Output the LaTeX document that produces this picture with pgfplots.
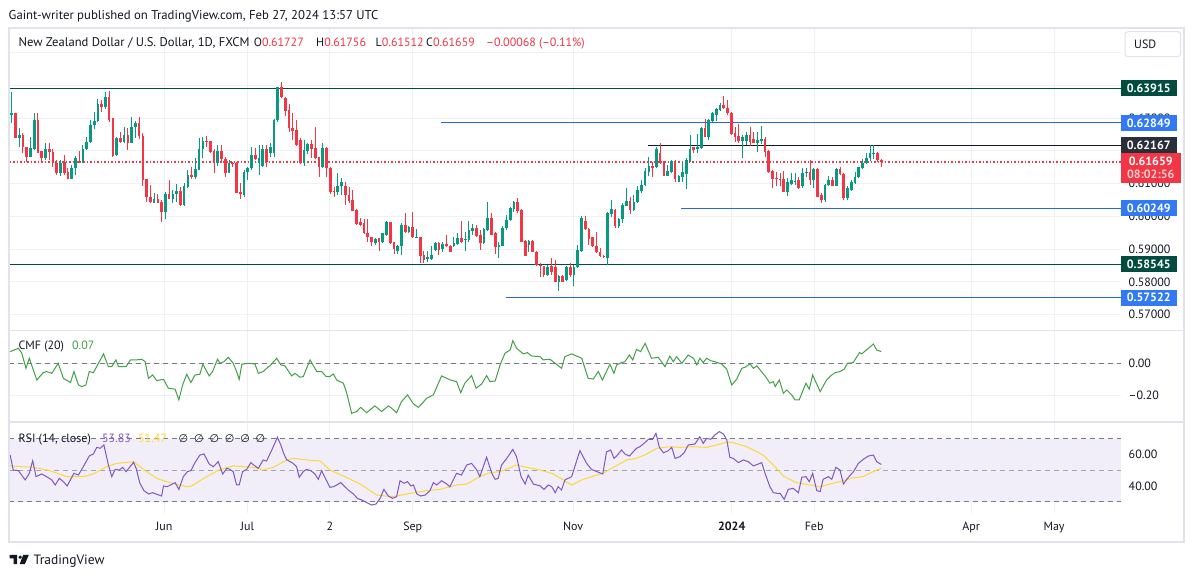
\documentclass[border=0pt]{standalone}
\usepackage{fontspec}
\setmainfont{PT Sans}
\newfontfamily\dejavu{DejaVu Sans}
\usepackage{pgfplots}
\pgfplotsset{compat=1.18}
\usepackage{pgfplotstable}
\definecolor{up}{HTML}{089981}
\definecolor{dn}{HTML}{F23645}
\definecolor{txt}{HTML}{131722}
\definecolor{gridc}{HTML}{EEF0F5}
\definecolor{framec}{HTML}{E0E3EB}
\definecolor{dgreen}{HTML}{004D40}
\definecolor{bline}{HTML}{2962FF}
\definecolor{bbox}{HTML}{3179F5}
\definecolor{kbox}{HTML}{2A2E39}
\definecolor{cmfc}{HTML}{43A047}
\definecolor{rsic}{HTML}{7E57C2}
\definecolor{mac}{HTML}{FDD835}
\definecolor{bandc}{HTML}{F2EEF9}
\definecolor{dashc}{HTML}{787B86}
\definecolor{dashl}{HTML}{A3A6AF}
\definecolor{pinkc}{HTML}{FBCBD0}

\pgfplotstableread{
i O H L C
0 0.6308 0.6380 0.6286 0.6316
1 0.6316 0.6316 0.6238 0.6240
2 0.6240 0.6271 0.6210 0.6248
3 0.6248 0.6253 0.6194 0.6210
4 0.6213 0.6213 0.6167 0.6182
5 0.6182 0.6241 0.6182 0.6208
6 0.6204 0.6314 0.6202 0.6294
7 0.6294 0.6314 0.6194 0.6194
8 0.6200 0.6200 0.6162 0.6179
9 0.6177 0.6223 0.6172 0.6205
10 0.6205 0.6225 0.6172 0.6197
11 0.6197 0.6205 0.6150 0.6164
12 0.6164 0.6172 0.6126 0.6133
13 0.6133 0.6172 0.6124 0.6164
14 0.6167 0.6187 0.6126 0.6133
15 0.6136 0.6146 0.6113 0.6113
16 0.6113 0.6157 0.6113 0.6146
17 0.6146 0.6185 0.6126 0.6177
18 0.6169 0.6200 0.6162 0.6164
19 0.6167 0.6218 0.6164 0.6205
20 0.6204 0.6243 0.6202 0.6226
21 0.6226 0.6294 0.6223 0.6279
22 0.6279 0.6317 0.6265 0.6292
23 0.6292 0.6357 0.6289 0.6343
24 0.6343 0.6355 0.6319 0.6333
25 0.6333 0.6378 0.6327 0.6365
26 0.6365 0.6382 0.6289 0.6294
27 0.6299 0.6299 0.6182 0.6184
28 0.6187 0.6243 0.6184 0.6238
29 0.6238 0.6258 0.6223 0.6228
30 0.6228 0.6274 0.6223 0.6248
31 0.6248 0.6271 0.6202 0.6223
32 0.6223 0.6304 0.6223 0.6274
33 0.6272 0.6292 0.6238 0.6286
34 0.6286 0.6302 0.6235 0.6245
35 0.6245 0.6253 0.6092 0.6111
36 0.6113 0.6113 0.6045 0.6060
37 0.6060 0.6096 0.6040 0.6045
38 0.6042 0.6070 0.6042 0.6053
39 0.6053 0.6067 0.6042 0.6042
40 0.6043 0.6050 0.5984 0.6014
41 0.6014 0.6075 0.5991 0.6068
42 0.6068 0.6111 0.6053 0.6053
43 0.6053 0.6080 0.6042 0.6068
44 0.6067 0.6099 0.6045 0.6077
45 0.6077 0.6090 0.6032 0.6035
46 0.6035 0.6101 0.6032 0.6092
47 0.6090 0.6141 0.6085 0.6126
48 0.6126 0.6150 0.6115 0.6119
49 0.6119 0.6177 0.6113 0.6144
50 0.6141 0.6238 0.6141 0.6205
51 0.6204 0.6241 0.6177 0.6230
52 0.6231 0.6245 0.6213 0.6228
53 0.6230 0.6231 0.6194 0.6197
54 0.6199 0.6204 0.6133 0.6164
55 0.6164 0.6218 0.6154 0.6199
56 0.6199 0.6218 0.6164 0.6174
57 0.6174 0.6182 0.6119 0.6133
58 0.6133 0.6172 0.6133 0.6164
59 0.6164 0.6167 0.6152 0.6162
60 0.6164 0.6167 0.6070 0.6072
61 0.6075 0.6101 0.6053 0.6067
62 0.6065 0.6141 0.6060 0.6136
63 0.6136 0.6152 0.6111 0.6146
64 0.6146 0.6213 0.6141 0.6187
65 0.6187 0.6208 0.6172 0.6175
66 0.6164 0.6218 0.6126 0.6177
67 0.6154 0.6218 0.6150 0.6205
68 0.6205 0.6218 0.6150 0.6167
69 0.6194 0.6223 0.6180 0.6211
70 0.6194 0.6296 0.6182 0.6294
71 0.6294 0.6396 0.6289 0.6394
72 0.6394 0.6411 0.6360 0.6365
73 0.6360 0.6365 0.6306 0.6322
74 0.6324 0.6343 0.6258 0.6269
75 0.6271 0.6314 0.6233 0.6261
76 0.6263 0.6294 0.6215 0.6218
77 0.6233 0.6238 0.6160 0.6162
78 0.6162 0.6233 0.6155 0.6202
79 0.6200 0.6225 0.6190 0.6221
80 0.6221 0.6233 0.6177 0.6205
81 0.6208 0.6274 0.6175 0.6179
82 0.6182 0.6182 0.6121 0.6152
83 0.6152 0.6225 0.6146 0.6208
84 0.6208 0.6213 0.6121 0.6146
85 0.6146 0.6152 0.6067 0.6075
86 0.6078 0.6088 0.6060 0.6075
87 0.6075 0.6131 0.6065 0.6092
88 0.6092 0.6116 0.6065 0.6106
89 0.6092 0.6106 0.6035 0.6065
90 0.6065 0.6090 0.6040 0.6048
91 0.6050 0.6080 0.6017 0.6017
92 0.6019 0.6022 0.5974 0.5977
93 0.5984 0.5994 0.5969 0.5972
94 0.5981 0.5991 0.5946 0.5948
95 0.5948 0.5991 0.5923 0.5936
96 0.5938 0.5938 0.5908 0.5921
97 0.5918 0.5933 0.5913 0.5930
98 0.5933 0.5935 0.5895 0.5921
99 0.5921 0.5950 0.5919 0.5948
100 0.5943 0.5986 0.5941 0.5982
101 0.5982 0.5984 0.5916 0.5918
102 0.5923 0.5923 0.5884 0.5900
103 0.5895 0.5913 0.5884 0.5910
104 0.5908 0.5979 0.5882 0.5972
105 0.5972 0.6009 0.5948 0.5951
106 0.5951 0.5969 0.5948 0.5966
107 0.5966 0.6014 0.5933 0.5936
108 0.5935 0.5962 0.5933 0.5937
109 0.5938 0.5938 0.5859 0.5879
110 0.5882 0.5895 0.5859 0.5867
111 0.5871 0.5895 0.5862 0.5875
112 0.5869 0.5908 0.5867 0.5882
113 0.5897 0.5923 0.5895 0.5918
114 0.5918 0.5923 0.5882 0.5897
115 0.5900 0.5923 0.5892 0.5915
116 0.5915 0.5943 0.5906 0.5908
117 0.5910 0.5913 0.5890 0.5892
118 0.5908 0.5938 0.5906 0.5918
119 0.5916 0.5948 0.5913 0.5933
120 0.5933 0.5987 0.5918 0.5923
121 0.5928 0.5953 0.5895 0.5930
122 0.5928 0.5987 0.5923 0.5958
123 0.5956 0.5977 0.5943 0.5963
124 0.5963 0.5974 0.5938 0.5941
125 0.5943 0.5958 0.5897 0.5918
126 0.5918 0.5964 0.5916 0.5960
127 0.5958 0.6045 0.5956 0.5994
128 0.5994 0.6009 0.5943 0.5943
129 0.5950 0.5953 0.5884 0.5905
130 0.5905 0.5923 0.5872 0.5913
131 0.5910 0.5969 0.5908 0.5964
132 0.5964 0.6004 0.5958 0.5989
133 0.5989 0.6028 0.5985 0.6024
134 0.6022 0.6048 0.6014 0.6045
135 0.6045 0.6055 0.6009 0.6017
136 0.6019 0.6022 0.5921 0.5923
137 0.5926 0.5928 0.5879 0.5879
138 0.5913 0.5928 0.5892 0.5926
139 0.5926 0.5928 0.5890 0.5892
140 0.5892 0.5895 0.5849 0.5852
141 0.5852 0.5857 0.5816 0.5847
142 0.5847 0.5847 0.5816 0.5821
143 0.5821 0.5852 0.5819 0.5845
144 0.5849 0.5872 0.5821 0.5831
145 0.5845 0.5867 0.5799 0.5801
146 0.5801 0.5821 0.5772 0.5818
147 0.5818 0.5821 0.5799 0.5801
148 0.5805 0.5847 0.5803 0.5845
149 0.5845 0.5857 0.5816 0.5821
150 0.5821 0.5852 0.5787 0.5845
151 0.5845 0.5913 0.5842 0.5897
152 0.5894 0.6001 0.5892 0.5996
153 0.5987 0.6001 0.5958 0.5960
154 0.5960 0.5964 0.5913 0.5930
155 0.5936 0.5938 0.5906 0.5908
156 0.5910 0.5953 0.5887 0.5890
157 0.5890 0.5903 0.5877 0.5879
158 0.5879 0.5882 0.5872 0.5875
159 0.5872 0.6012 0.5852 0.6009
160 0.6006 0.6050 0.5999 0.6021
161 0.6018 0.6021 0.5964 0.5969
162 0.5969 0.5994 0.5964 0.5991
163 0.5991 0.6040 0.5979 0.6035
164 0.6032 0.6086 0.6030 0.6047
165 0.6047 0.6060 0.6008 0.6018
166 0.6018 0.6066 0.6015 0.6045
167 0.6045 0.6091 0.6042 0.6079
168 0.6076 0.6111 0.6071 0.6096
169 0.6096 0.6147 0.6093 0.6137
170 0.6134 0.6182 0.6123 0.6154
171 0.6154 0.6167 0.6119 0.6147
172 0.6149 0.6210 0.6147 0.6205
173 0.6193 0.6223 0.6160 0.6162
174 0.6164 0.6169 0.6122 0.6123
175 0.6123 0.6157 0.6122 0.6137
176 0.6134 0.6172 0.6132 0.6169
177 0.6169 0.6172 0.6106 0.6113
178 0.6106 0.6125 0.6105 0.6123
179 0.6121 0.6167 0.6106 0.6134
180 0.6129 0.6177 0.6084 0.6172
181 0.6170 0.6248 0.6167 0.6206
182 0.6211 0.6213 0.6193 0.6203
183 0.6205 0.6251 0.6193 0.6211
184 0.6208 0.6274 0.6205 0.6271
185 0.6271 0.6296 0.6241 0.6243
186 0.6243 0.6296 0.6233 0.6294
187 0.6292 0.6319 0.6289 0.6314
188 0.6310 0.6330 0.6292 0.6327
189 0.6325 0.6347 0.6320 0.6340
190 0.6340 0.6367 0.6327 0.6330
191 0.6330 0.6355 0.6309 0.6314
192 0.6316 0.6317 0.6248 0.6250
193 0.6253 0.6274 0.6228 0.6243
194 0.6245 0.6282 0.6223 0.6231
195 0.6231 0.6248 0.6177 0.6243
196 0.6231 0.6258 0.6218 0.6248
197 0.6248 0.6274 0.6215 0.6228
198 0.6235 0.6258 0.6223 0.6225
199 0.6225 0.6256 0.6196 0.6233
200 0.6231 0.6276 0.6221 0.6236
201 0.6236 0.6243 0.6182 0.6197
202 0.6200 0.6202 0.6133 0.6134
203 0.6139 0.6141 0.6086 0.6114
204 0.6116 0.6136 0.6091 0.6114
205 0.6114 0.6131 0.6091 0.6113
206 0.6114 0.6139 0.6073 0.6075
207 0.6075 0.6116 0.6062 0.6106
208 0.6099 0.6131 0.6096 0.6111
209 0.6108 0.6133 0.6096 0.6109
210 0.6111 0.6121 0.6084 0.6086
211 0.6091 0.6147 0.6086 0.6133
212 0.6131 0.6147 0.6121 0.6136
213 0.6136 0.6172 0.6096 0.6111
214 0.6111 0.6146 0.6086 0.6145
215 0.6145 0.6146 0.6058 0.6060
216 0.6065 0.6072 0.6040 0.6050
217 0.6050 0.6098 0.6045 0.6096
218 0.6096 0.6123 0.6091 0.6111
219 0.6111 0.6119 0.6091 0.6094
220 0.6094 0.6147 0.6093 0.6144
221 0.6144 0.6150 0.6125 0.6128
222 0.6128 0.6133 0.6050 0.6057
223 0.6057 0.6091 0.6050 0.6086
224 0.6081 0.6111 0.6078 0.6104
225 0.6101 0.6136 0.6099 0.6121
226 0.6119 0.6152 0.6116 0.6149
227 0.6147 0.6174 0.6144 0.6164
228 0.6162 0.6194 0.6160 0.6179
229 0.6177 0.6218 0.6170 0.6194
230 0.6192 0.6218 0.6174 0.6194
231 0.6192 0.6197 0.6167 0.6172
232 0.6173 0.6176 0.6151 0.6166
}\candles

\pgfplotstableread{
x y
-0.4 0.072
1.8 0.093
2.7 0.062
3.8 -0.031
4.7 0.031
6.7 -0.103
8.4 -0.058
9.3 -0.051
10.7 -0.062
12.4 0.0
13.8 -0.093
15.7 -0.119
16.6 -0.051
17.8 -0.134
18.7 -0.144
19.8 -0.134
20.7 -0.051
21.8 -0.058
24.5 0.058
25.8 -0.021
26.7 -0.021
27.8 0.021
28.5 -0.021
30.5 -0.021
31.7 0.021
33.3 0.021
34.7 0.025
35.6 0.010
36.5 -0.093
37.6 -0.072
38.7 -0.107
40.5 -0.099
41.8 -0.154
43.6 -0.160
44.6 -0.226
45.6 -0.134
46.7 -0.068
47.8 -0.119
48.9 -0.072
50.2 -0.068
51.0 -0.006
52.7 -0.078
53.6 -0.051
54.9 0.025
55.6 0.0
56.6 0.010
57.8 0.037
59.1 0.0
60.0 -0.051
60.7 -0.099
61.4 -0.006
63.1 0.0
64.9 -0.004
65.8 -0.062
67.1 -0.051
68.5 -0.021
68.9 -0.016
70.7 0.031
71.8 -0.010
72.9 -0.016
74.7 -0.078
75.6 -0.062
76.9 -0.086
77.8 -0.082
79.6 0.021
81.4 -0.051
82.7 -0.051
83.9 -0.082
84.9 -0.082
85.8 -0.066
86.7 -0.103
88.5 -0.123
89.4 -0.185
90.7 -0.309
92.0 -0.298
93.1 -0.272
94.7 -0.305
96.9 -0.263
98.7 -0.298
100.5 -0.263
101.4 -0.278
102.7 -0.305
104.0 -0.237
105.6 -0.195
107.2 -0.251
108.5 -0.272
109.4 -0.251
110.7 -0.216
112.5 -0.195
114.7 -0.078
117.0 -0.103
118.7 -0.113
119.8 -0.181
120.9 -0.123
122.7 -0.076
123.9 -0.154
125.4 -0.128
126.7 -0.076
127.6 -0.113
129.0 -0.109
130.3 -0.010
131.6 0.062
133.0 0.082
133.7 0.140
134.7 0.093
136.5 0.058
137.6 0.066
138.7 0.045
141.0 0.041
141.8 0.021
143.6 0.025
145.0 0.0
146.7 -0.031
147.6 0.041
149.4 0.058
150.7 0.045
152.1 0.031
153.8 -0.093
155.2 -0.097
156.5 -0.051
157.6 -0.103
159.6 -0.006
160.7 -0.062
161.4 -0.010
162.7 0.004
163.6 0.010
164.8 0.051
165.7 0.021
166.7 0.086
167.8 0.072
169.0 0.123
170.7 0.031
172.5 0.037
174.3 -0.021
175.6 0.045
176.5 0.010
177.4 0.041
178.8 0.0
180.5 0.051
181.9 0.031
182.8 -0.010
183.6 0.031
184.5 0.004
185.4 0.031
186.5 0.016
187.6 0.010
189.4 -0.004
190.8 -0.037
192.1 -0.134
193.4 -0.099
194.8 -0.031
195.6 -0.025
197.0 -0.004
197.9 -0.031
198.8 -0.016
201.0 -0.078
202.3 -0.123
203.2 -0.113
203.7 -0.144
204.8 -0.103
205.9 -0.185
206.8 -0.165
208.1 -0.195
209.0 -0.226
210.1 -0.226
211.9 -0.123
212.8 -0.160
213.7 -0.072
215.7 -0.175
217.4 -0.103
218.8 -0.072
219.7 -0.058
221.0 -0.051
222.1 -0.037
223.0 0.0
224.5 0.004
226.2 0.066
226.8 0.058
229.9 0.119
230.8 0.082
232.0 0.072
}\cmf

\pgfplotstableread{
x y
-0.4 59.8
0.4 50.3
1.8 49.9
3.6 44.0
4.7 48.2
5.6 56.2
6.5 46.1
8.0 47.8
9.3 46.1
10.7 44.0
11.6 40.8
12.7 45.0
13.8 42.9
14.8 40.2
16.6 48.2
17.8 47.1
19.1 52.4
20.7 59.2
21.8 60.5
22.7 64.7
23.6 64.1
24.6 66.2
25.8 53.5
26.7 46.1
27.6 50.7
28.7 50.3
29.6 52.0
30.5 49.3
31.6 52.4
32.5 55.2
33.2 51.4
34.2 41.9
35.3 37.2
36.5 35.1
37.6 35.9
38.5 35.1
40.0 33.8
40.5 40.2
41.4 39.7
42.4 40.8
43.6 42.3
44.6 38.0
45.8 46.1
46.9 49.3
47.8 49.9
48.9 55.0
50.2 59.8
51.3 60.5
52.7 54.1
53.8 52.4
55.1 55.6
56.3 47.8
57.4 51.4
58.2 50.7
59.1 49.3
60.0 40.8
60.7 40.8
61.6 49.3
62.7 50.7
63.8 55.0
64.9 52.9
65.8 51.4
67.1 56.7
68.0 56.0
69.4 63.0
70.9 71.1
71.8 66.2
72.5 61.2
73.4 56.7
74.3 55.6
75.1 54.5
76.0 52.4
76.7 45.7
77.8 49.3
78.7 50.7
79.8 49.9
80.9 47.8
81.8 44.4
82.7 49.9
83.9 44.0
84.9 39.3
85.8 39.7
86.7 40.8
87.8 42.3
88.9 39.7
89.8 37.6
91.2 35.1
92.2 32.3
93.4 31.3
94.7 29.6
96.0 28.1
97.2 28.7
98.3 32.3
99.3 38.0
100.5 33.8
101.6 32.3
102.7 33.4
103.6 43.5
104.7 41.9
105.6 42.9
106.5 40.2
107.2 40.8
108.1 35.1
109.1 33.8
110.3 34.4
111.6 37.2
112.5 42.3
113.4 40.8
114.7 43.5
116.1 41.4
116.9 39.7
118.7 48.2
120.0 47.1
121.4 53.5
122.7 54.5
124.1 50.3
124.9 46.1
126.7 58.4
128.1 48.2
129.0 44.4
129.8 45.0
130.7 53.5
132.1 57.7
133.7 63.4
134.7 58.8
135.9 46.1
137.0 41.4
137.8 47.1
139.2 41.4
141.0 40.2
142.0 38.0
143.2 40.8
144.1 39.7
145.0 35.9
145.8 39.7
146.7 37.6
147.6 44.0
149.4 46.1
151.6 62.6
153.4 54.5
154.7 50.7
156.1 49.3
157.7 47.8
158.7 61.8
159.8 63.0
160.7 57.7
161.4 59.2
162.7 63.0
163.6 60.5
164.8 59.2
166.7 64.1
167.6 65.1
168.7 67.2
169.9 69.8
171.0 69.8
171.9 73.6
172.8 64.7
173.9 61.2
175.2 62.6
176.1 64.7
177.0 57.7
178.3 58.8
179.4 61.2
180.5 66.2
182.3 66.8
183.6 71.5
184.5 67.2
185.4 70.4
186.5 69.8
187.6 72.5
188.8 74.7
189.9 73.2
190.8 69.4
191.6 58.4
192.5 57.7
193.9 55.0
195.2 56.7
196.5 55.6
197.9 52.9
199.2 54.1
200.1 55.0
201.0 48.2
202.3 39.7
203.2 35.9
204.3 35.5
205.0 35.5
206.1 31.7
207.2 38.0
208.5 38.7
209.9 35.9
210.8 45.7
211.9 46.1
212.8 42.9
213.7 48.2
214.8 37.2
215.7 36.6
216.5 44.4
217.9 46.1
218.8 44.4
219.9 52.0
221.0 50.3
221.9 41.4
223.0 45.0
224.6 49.3
225.9 54.5
227.2 57.1
228.6 59.2
229.9 59.8
230.8 55.6
232.0 53.83
}\rsi

\pgfplotstableread{
x y
-0.4 52.9
5.8 52.0
10.2 49.9
14.7 46.1
19.1 46.1
21.8 47.8
25.3 52.4
28.0 54.5
32.5 55.6
35.1 50.7
38.7 45.0
42.2 42.3
46.7 39.7
48.0 40.2
52.0 46.1
55.6 50.7
59.1 52.9
64.5 52.0
67.1 50.3
69.8 52.0
73.4 56.7
75.1 57.7
78.7 56.7
82.3 56.0
84.9 50.3
88.5 46.5
93.0 41.4
97.4 34.4
101.8 33.4
106.3 35.5
110.7 37.2
114.3 38.0
118.7 40.8
121.4 41.4
124.9 46.1
127.6 48.6
130.3 49.3
134.7 53.5
137.4 52.0
141.0 50.3
144.5 47.8
147.2 44.0
149.4 40.8
152.5 44.4
156.1 47.1
157.8 48.2
160.5 52.0
164.1 56.7
166.7 57.7
169.4 60.5
172.1 64.1
175.6 65.1
178.3 64.7
181.9 65.1
185.4 64.7
188.1 66.2
190.8 68.1
192.5 67.7
196.1 65.1
200.5 59.8
203.2 53.5
205.9 46.5
209.4 42.3
213.0 40.8
215.7 39.7
218.3 41.4
221.0 42.9
223.7 45.0
227.2 46.1
229.9 49.3
232.0 51.47
}\rsima

\pgfplotsset{
  tvax/.style={scale only axis, width=1111pt, anchor=south west,
    xmin=-0.587, xmax=295.84,
    axis line style={draw=none}, major tick length=0pt, tick style={draw=none},
    xtick={40.7,62.9,84.9,107.0,149.8,192.1,214.1,256.0,278.1},
    xticklabels={},
    xmajorgrids, ymajorgrids, grid style={gridc, line width=1pt},
    yticklabel pos=right,
    yticklabel style={anchor=west, inner sep=0pt, xshift=8pt,
      font=\fontsize{12}{14}\selectfont, text=txt},
    clip=false},
  wick/.style={draw=none, mark=none, forget plot,
    error bars/.cd, y dir=plus, y explicit, error mark=none,
    error bar style={draw=#1, line width=1pt}},
  body/.style={draw=none, mark=none, forget plot,
    error bars/.cd, y dir=plus, y explicit, error mark=none,
    error bar style={draw=#1, line width=2.7pt}},
}

\begin{document}
\begin{tikzpicture}[x=1pt,y=1pt,font=\fontsize{12}{14}\selectfont]
\fill[white] (0,0) rectangle (1195,577);
\fill[bandc] (9.5,75) rectangle (1120.5,138);

% ---------------- price panel ----------------
\begin{axis}[tvax, at={(9.5pt,246.3pt)}, height=302.7pt,
  ymin=0.565096, ymax=0.657467,
  ytick={0.57,0.58,0.59,0.60,0.61,0.62,0.63,0.64,0.65},
  yticklabels={0.57000,0.58000,0.59000,0.60000,0.61000,,0.63000,,}]
\addplot[dgreen, line width=0.9pt, forget plot] coordinates {(-0.587,0.63915) (295.84,0.63915)};
\addplot[dgreen, line width=0.9pt, forget plot] coordinates {(-0.587,0.58545) (295.84,0.58545)};
\addplot[bline, line width=0.9pt, forget plot] coordinates {(114.5,0.62849) (295.84,0.62849)};
\addplot[txt, line width=0.9pt, forget plot] coordinates {(169.9,0.62167) (295.84,0.62167)};
\addplot[bline, line width=0.9pt, forget plot] coordinates {(178.6,0.60249) (295.84,0.60249)};
\addplot[bline, line width=0.9pt, forget plot] coordinates {(131.8,0.57522) (295.84,0.57522)};
\addplot[draw=dn, line width=1.2pt, dash pattern=on 1.5pt off 2pt, forget plot] coordinates {(-0.587,0.61659) (295.84,0.61659)};
% candles: wicks then bodies
\addplot[restrict expr to domain={\thisrow{C}-\thisrow{O}}{0:1}, wick=up]
  table[x=i, y=L, y error expr=\thisrow{H}-\thisrow{L}] {\candles};
\addplot[restrict expr to domain={\thisrow{C}-\thisrow{O}}{-1:-0.00001}, wick=dn]
  table[x=i, y=L, y error expr=\thisrow{H}-\thisrow{L}] {\candles};
\addplot[restrict expr to domain={\thisrow{C}-\thisrow{O}}{0:1}, body=up]
  table[x=i, y=O, y error expr={max(\thisrow{C}-\thisrow{O},0.00003)}] {\candles};
\addplot[restrict expr to domain={\thisrow{C}-\thisrow{O}}{-1:-0.00001}, body=dn]
  table[x=i, y=C, y error expr=\thisrow{O}-\thisrow{C}] {\candles};
\coordinate (b1) at (axis cs:295.84,0.63915);
\coordinate (b2) at (axis cs:295.84,0.62849);
\coordinate (b3) at (axis cs:295.84,0.62167);
\coordinate (b4) at (axis cs:295.84,0.61659);
\coordinate (b5) at (axis cs:295.84,0.60249);
\coordinate (b6) at (axis cs:295.84,0.58545);
\coordinate (b7) at (axis cs:295.84,0.57522);
\end{axis}

% ---------------- CMF panel ----------------
\begin{axis}[tvax, at={(9.5pt,154.7pt)}, height=91.6pt,
  ymin=-0.3642, ymax=0.20123,
  ytick={-0.2,0}, yticklabels={–0.20,0.00}]
\addplot[dashc, line width=1pt, dash pattern=on 5pt off 4pt] coordinates {(-0.587,0) (295.84,0)};
\addplot[cmfc, line width=1pt] table[x=x,y=y] {\cmf};
\end{axis}

% ---------------- RSI panel ----------------
\begin{axis}[tvax, at={(9.5pt,64pt)}, height=90.7pt,
  ymin=23.02, ymax=80.60,
  ytick={40,60}, yticklabels={40.00,60.00},
  xticklabels={Jun,Jul,2,Sep,Nov,\textbf{2024},Feb,Apr,May},
  xticklabel style={anchor=base, inner sep=0pt, yshift=-18pt,
     font=\fontsize{12}{14}\selectfont, text=txt}]
\addplot[dashc, line width=1pt, dash pattern=on 5pt off 4pt] coordinates {(-0.587,70) (295.84,70)};
\addplot[dashl, line width=1pt, dash pattern=on 5pt off 4pt] coordinates {(-0.587,50) (295.84,50)};
\addplot[dashc, line width=1pt, dash pattern=on 5pt off 4pt] coordinates {(-0.587,30) (295.84,30)};
\addplot[mac, line width=1pt] table[x=x,y=y] {\rsima};
\addplot[rsic, line width=1pt] table[x=x,y=y] {\rsi};
\end{axis}

% ---------------- frame and separators ----------------
\draw[framec, line width=1.3pt] (9,35) rectangle (1184,549);
\draw[framec, line width=1.6pt] (9,246.3) -- (1184,246.3);
\draw[framec, line width=1.6pt] (9,154.7) -- (1184,154.7);

% ---------------- price labels on the scale ----------------
\tikzset{lbox/.style={anchor=west, inner sep=0pt, minimum width=56pt, minimum height=16pt,
   text=white, font=\fontsize{12}{14}\selectfont\bfseries}}
\node[lbox, fill=dgreen] at (b1) {0.63915};
\node[lbox, fill=bbox] at (b2) {0.62849};
\node[lbox, fill=kbox] at (b3) {0.62167};
\node[lbox, fill=dn, anchor=north west, minimum width=60pt, minimum height=30.5pt, align=center,
      font=\fontsize{12}{12.6}\selectfont\bfseries] at ([yshift=9.6pt]b4) {0.61659\\\textcolor{pinkc}{08:02:56}};
\node[lbox, fill=bbox] at (b5) {0.60249};
\node[lbox, fill=dgreen] at (b6) {0.58545};
\node[lbox, fill=bbox] at (b7) {0.57522};

% ---------------- texts ----------------
\node[anchor=base west, inner sep=0pt, text=txt, font=\fontsize{12.75}{14}\selectfont] at (8.5,557.5)
  {Gaint-writer published on TradingView.com, Feb 27, 2024 13:57 UTC};
\node[anchor=base west, inner sep=0pt, text=txt, font=\fontsize{12.6}{14}\selectfont] at (18.4,530.8) {New Zealand Dollar / U.S. Dollar, 1D, FXCM};
\node[anchor=base west, inner sep=0pt, text=txt] at (253.6,530.8) {O\textcolor{dn}{0.61727}};
\node[anchor=base west, inner sep=0pt, text=txt] at (316,530.8) {H\textcolor{dn}{0.61756}};
\node[anchor=base west, inner sep=0pt, text=txt] at (375.5,530.8) {L\textcolor{dn}{0.61512}};
\node[anchor=base west, inner sep=0pt, text=txt] at (426,530.8) {C\textcolor{dn}{0.61659}};
\node[anchor=base west, inner sep=0pt, text=dn] at (486,530.8) {–0.00068 (–0.11\%)};

\draw[framec, line width=1pt, rounded corners=3pt] (1125,520.3) rectangle (1180.7,545.3);
\node[anchor=west, inner sep=0pt, text=txt] at (1134,533) {USD};

\node[anchor=base west, inner sep=0pt, text=txt] at (18.3,227.6) {CMF (20)};
\node[anchor=base west, inner sep=0pt, text=cmfc] at (72,227.6) {0.07};

\node[anchor=base west, inner sep=0pt, text=txt] at (18.3,134.6) {RSI (14, close)};
\node[anchor=base west, inner sep=0pt, text=rsic] at (102,134.6) {53.83};
\node[anchor=base west, inner sep=0pt, text=mac] at (138,134.6) {51.47};
\foreach \k in {0,...,5}{
  \node[anchor=base west, inner sep=0pt, text=txt, font=\dejavu\fontsize{11}{13}\selectfont] at (178.5+15.4*\k,134.6) {∅};
}

% TradingView logo
\fill[txt] (9.6,22) -- (17.2,22) -- (17.2,12.8) -- (13.6,12.8) -- (13.6,18.6) -- (9.6,18.6) -- cycle;
\fill[txt] (20.2,19.8) circle (1.8);
\fill[txt] (23.2,22) -- (28.8,22) -- (24.8,12.8) -- (19.6,12.8) -- cycle;
\node[anchor=base west, inner sep=0pt, text=txt, font=\fontsize{13.5}{15}\selectfont] at (33.5,12.6) {TradingView};
\end{tikzpicture}
\end{document}
